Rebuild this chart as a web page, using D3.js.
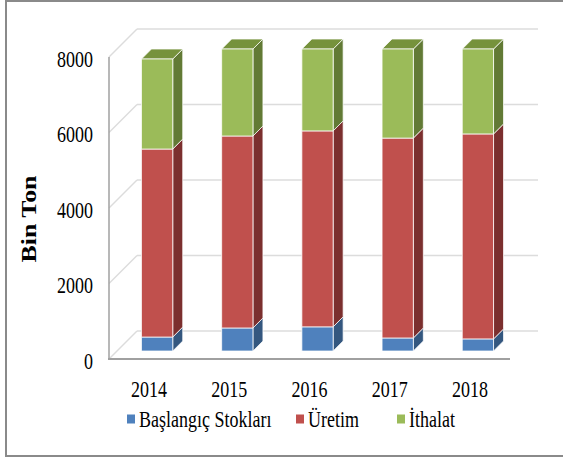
<!DOCTYPE html>
<html>
<head>
<meta charset="utf-8">
<script src="https://cdn.jsdelivr.net/npm/d3@7"></script>
<style>
    html, body { margin: 0; padding: 0; background: #fff; }
    svg { display: block; }
</style>
</head>
<body>
<div id="chart"></div>
<script>
const years = ["2014", "2015", "2016", "2017", "2018"];
const seriesNames = ["Başlangıç Stokları", "Üretim", "İthalat"];
const baslangicStoklari = [370, 610, 640, 345, 320];
const uretim = [4980, 5085, 5190, 5295, 5430];
const ithalat = [2385, 2305, 2170, 2360, 2250];
const yTicks = [0, 2000, 4000, 6000, 8000];

const colors = {
    "Başlangıç Stokları": {front: "#4f81bd", side: "#34577f", top: "#3f6a9c"},
    "Üretim": {front: "#c0504d", side: "#7b2f2e", top: "#9c3f3c"},
    "İthalat": {front: "#9bbb59", side: "#627a35", top: "#76923c"}
};

const chartW = 563, chartH = 459;
const plotLeft = 109, plotRight = 510, plotBottom = 359, plotTop = 57;
const wallDepth = 28;  // floor depth (x and y shift of back wall)
const barShift = 8;    // bar front face shift into depth
const barDepth = 10;   // bar thickness in depth
const stretch = 1.26;  // text in the picture is vertically stretched
const serif = "'Liberation Serif', 'DejaVu Serif', 'Times New Roman', serif";

const svg = d3.select("#chart").append("svg")
    .attr("width", chartW)
    .attr("height", chartH)
    .attr("font-family", serif);

// outer frame
svg.append("rect")
    .attr("x", 6).attr("y", 1)
    .attr("width", 580).attr("height", 455)
    .attr("fill", "none")
    .attr("stroke", "#8a8a8a")
    .attr("stroke-width", 2);

const x = d3.scaleBand().domain(years).range([plotLeft, plotRight]);
const y = d3.scaleLinear().domain([0, 8000]).range([plotBottom, plotTop]);

// walls: back gridlines + left wall diagonals
const grid = svg.append("g");
yTicks.forEach(t => {
    grid.append("line")
        .attr("x1", plotLeft + wallDepth).attr("x2", plotRight + wallDepth)
        .attr("y1", y(t) - wallDepth).attr("y2", y(t) - wallDepth)
        .attr("stroke", "#dcdcdc").attr("stroke-width", 1.5);
    grid.append("line")
        .attr("x1", plotLeft).attr("x2", plotLeft + wallDepth)
        .attr("y1", y(t)).attr("y2", y(t) - wallDepth)
        .attr("stroke", "#dcdcdc").attr("stroke-width", 1.5);
});

// axes lines
svg.append("line")
    .attr("x1", plotLeft).attr("x2", plotLeft)
    .attr("y1", y(8000)).attr("y2", plotBottom)
    .attr("stroke", "#a0a0a0").attr("stroke-width", 1.5);
svg.append("line")
    .attr("x1", plotLeft - 1).attr("x2", plotRight)
    .attr("y1", plotBottom).attr("y2", plotBottom)
    .attr("stroke", "#a0a0a0").attr("stroke-width", 2);

// y tick labels
svg.append("g").selectAll("text")
    .data(yTicks)
    .join("text")
    .attr("transform", d => `translate(93, ${y(d) + 2}) scale(1, ${stretch})`)
    .attr("text-anchor", "end")
    .attr("dy", "0.35em")
    .attr("font-size", 18)
    .text(d => d);

// y axis title
svg.append("text")
    .attr("transform", `translate(36, 219) rotate(-90) scale(${stretch}, 1)`)
    .attr("text-anchor", "middle")
    .attr("font-size", 20.5)
    .attr("font-weight", "bold")
    .text("Bin Ton");

// x tick labels
svg.append("g").selectAll("text")
    .data(years)
    .join("text")
    .attr("transform", d => `translate(${x(d) + x.bandwidth() / 2}, 389.5) scale(1, ${stretch})`)
    .attr("text-anchor", "middle")
    .attr("dy", "0.35em")
    .attr("font-size", 18)
    .text(d => d);

// stacked data
const table = years.map((yr, i) => ({
    year: yr,
    "Başlangıç Stokları": baslangicStoklari[i],
    "Üretim": uretim[i],
    "İthalat": ithalat[i]
}));
const stack = d3.stack().keys(seriesNames)(table);

const barW = x.bandwidth() * 0.39;
const dd = barDepth;
const bars = svg.append("g");

stack.forEach((layer, li) => {
    const c = colors[layer.key];
    layer.forEach(seg => {
        const cx = x(seg.data.year) + x.bandwidth() / 2 + barShift;
        const x0 = cx - barW / 2, x1 = cx + barW / 2;
        const yb = y(seg[0]) - barShift, yt = y(seg[1]) - barShift;
        const g = bars.append("g")
            .attr("stroke", "rgba(255,255,255,0.75)")
            .attr("stroke-width", 1)
            .attr("stroke-linejoin", "round");
        // side
        g.append("path")
            .attr("d", `M${x1},${yt} L${x1 + dd},${yt - dd} L${x1 + dd},${yb - dd} L${x1},${yb} Z`)
            .attr("fill", c.side);
        // top (only visible for the last layer)
        if (li === stack.length - 1) {
            g.append("path")
                .attr("d", `M${x0},${yt} L${x0 + dd},${yt - dd} L${x1 + dd},${yt - dd} L${x1},${yt} Z`)
                .attr("fill", c.top);
        }
        // front
        g.append("rect")
            .attr("x", x0).attr("y", yt)
            .attr("width", barW).attr("height", yb - yt)
            .attr("fill", c.front);
    });
});

// legend
const legendPos = [127, 296, 397];
const legend = svg.append("g").selectAll("g")
    .data(seriesNames)
    .join("g")
    .attr("transform", (s, i) => `translate(${legendPos[i]}, 419)`);

legend.append("rect")
    .attr("x", 0).attr("y", -4.5)
    .attr("width", 8).attr("height", 9)
    .attr("fill", s => colors[s].front);

legend.append("text")
    .attr("transform", `translate(12, 0) scale(1, ${stretch})`)
    .attr("dy", "0.35em")
    .attr("font-size", 18)
    .text(s => s);
</script>
</body>
</html>
